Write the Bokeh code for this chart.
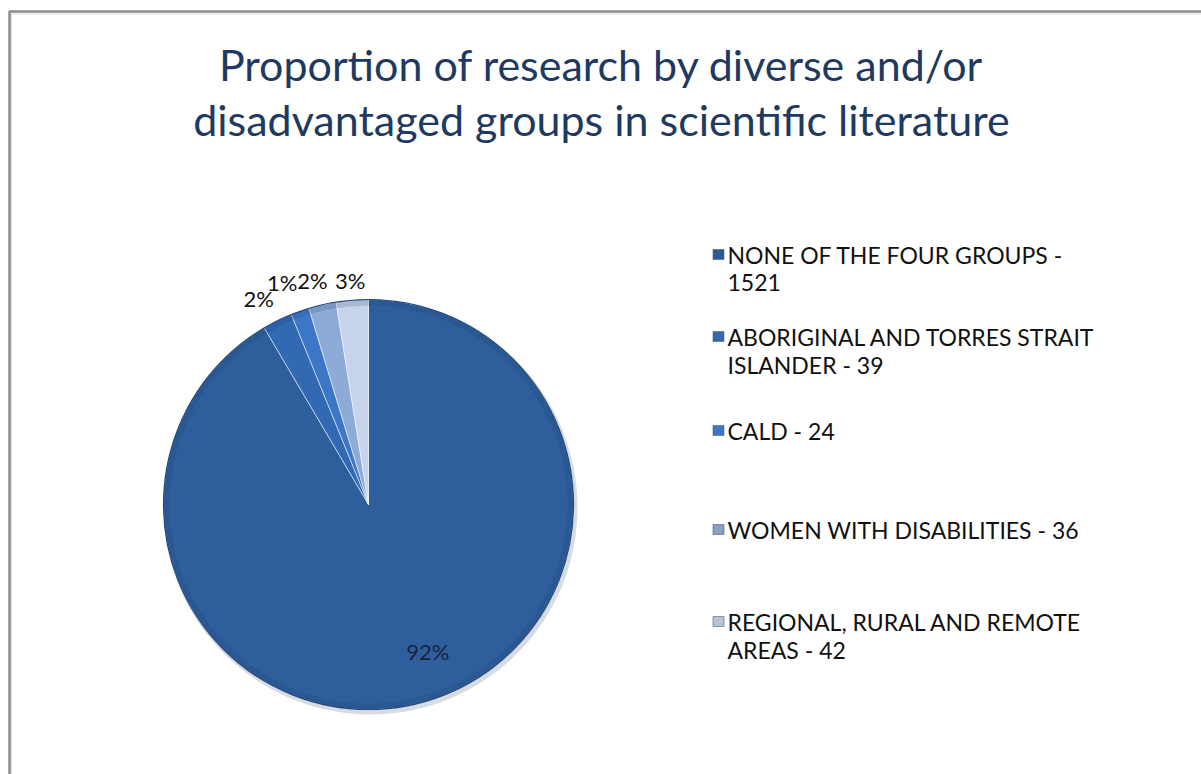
import math
import textwrap

from bokeh.plotting import figure
from bokeh.models import Range1d, ColumnDataSource
from bokeh.core.properties import value
from bokeh.embed import file_html
from bokeh.resources import INLINE

# ---- data -------------------------------------------------------------
groups = [
    "NONE OF THE FOUR GROUPS",
    "ABORIGINAL AND TORRES STRAIT ISLANDER ",
    "CALD",
    "WOMEN WITH DISABILITIES",
    "REGIONAL, RURAL AND REMOTE AREAS",
]
counts = [1521, 39, 24, 36, 42]

slice_colors = ["#2e5f9c", "#3169b3", "#3b77c6", "#8eaad6", "#c6d3ea"]
legend_colors = ["#2c5a97", "#3668ac", "#3f77c2", "#8a9fc4", "#b5c2d8"]

title_lines = [
    "Proportion of research by diverse and/or",
    "disadvantaged groups in scientific literature",
]

# ---- layout (page pixels, y measured from top) ------------------------
W, H = 1201, 774
PIE_X, PIE_Y, R = 368, 504, 205
TITLE_X, TITLE_BASELINES = 601, [64, 119]
LEGEND_MARK_X, LEGEND_TEXT_X = 718, 727
LEGEND_FIRST_LINE = [254, 336, 430, 529, 621]
LEGEND_LINE_STEP = 28
FONT = "Lato"


def fy(py):
    """page y (from top) -> data y (from bottom)"""
    return H - py


total = float(sum(counts))
fracs = [c / total for c in counts]
pct_text = [f"{round(100 * f)}%" for f in fracs]

# slices run clockwise from 12 o'clock
cum = [0.0]
for f in fracs:
    cum.append(cum[-1] + f)
theta0 = [2 * math.pi * cum[i] for i in range(len(counts))]
theta1 = [2 * math.pi * cum[i + 1] for i in range(len(counts))]
start_angles = [math.pi / 2 - t for t in theta1]
end_angles = [math.pi / 2 - t for t in theta0]
mid = [(a + b) / 2 for a, b in zip(theta0, theta1)]

cx, cy = PIE_X, fy(PIE_Y)

p = figure(
    width=W, height=H,
    x_range=Range1d(0, W), y_range=Range1d(0, H),
    output_backend="svg", toolbar_location=None,
    min_border=0,
)
p.axis.visible = False
p.grid.visible = False
p.outline_line_color = None
p.background_fill_color = "white"
p.border_fill_color = "white"

# chart-area frame (continues past the right and bottom page edges)
p.quad(left=[9], right=[W + 30], bottom=[-30], top=[fy(11)],
       fill_color=None, line_color="#8c8c8c", line_width=2.5)
p.quad(left=[11], right=[W + 30], bottom=[-30], top=[fy(13.5)],
       fill_color=None, line_color="#d9d9d9", line_width=1)

# soft shadow under the pie
p.circle(x=[cx + 2], y=[cy - 3], radius=R + 2, fill_color="#8d99ab",
         fill_alpha=0.35, line_color=None)

src = ColumnDataSource(dict(
    start=start_angles, end=end_angles, color=slice_colors,
    group=groups, count=counts,
))
p.wedge(x=cx, y=cy, radius=R, start_angle="start", end_angle="end",
        fill_color="color", line_color="white", line_alpha=0.55,
        line_width=1, source=src)

# darker rim for a bevelled look
p.annular_wedge(x=cx, y=cy, inner_radius=R - 6, outer_radius=R,
                start_angle="start", end_angle="end", fill_color="#1d3f6e",
                fill_alpha=0.18, line_color=None, source=src)
p.circle(x=[cx], y=[cy], radius=R, fill_color=None,
         line_color="#23497c", line_width=1.2)

# percentage labels
lab_r = [R * 0.745] + [R + 27] * (len(counts) - 1)
lab_x = [cx + r * math.sin(t) for r, t in zip(lab_r, mid)]
lab_y = [cy + r * math.cos(t) for r, t in zip(lab_r, mid)]
lab_dx = [19, -7, -9, -4, 0]
lab_dy = [0, 2, -3, 2, 7]
lab_color = ["#15233f", "#111111", "#111111", "#111111", "#111111"]
p.text(x=lab_x, y=lab_y, text=pct_text, x_offset=lab_dx, y_offset=lab_dy,
       text_font=value(FONT), text_font_size="22px", text_color=lab_color,
       text_align="center", text_baseline="middle")

# title
p.text(x=[TITLE_X] * len(title_lines), y=[fy(b) for b in TITLE_BASELINES],
       text=title_lines, text_font=value(FONT), text_font_size="43px",
       text_color="#1f3a60", text_align="center",
       text_baseline="alphabetic")

# legend
legend_labels = [textwrap.wrap(f"{g} - {c}", 28, drop_whitespace=True)
                 for g, c in zip(groups, counts)]
lx, ly, lt = [], [], []
for first, lines in zip(LEGEND_FIRST_LINE, legend_labels):
    for k, line in enumerate(lines):
        lx.append(LEGEND_TEXT_X)
        ly.append(fy(first + k * LEGEND_LINE_STEP))
        lt.append(line)
p.rect(x=[LEGEND_MARK_X] * len(groups), y=[fy(v) for v in LEGEND_FIRST_LINE],
       width=11, height=10, fill_color=legend_colors,
       line_color="#50607a", line_width=0.6)
p.text(x=lx, y=ly, text=lt, text_font=value(FONT), text_font_size="23px",
       text_color="#111111", text_align="left", text_baseline="middle")

open("out.html", "w").write(file_html(p, INLINE))
